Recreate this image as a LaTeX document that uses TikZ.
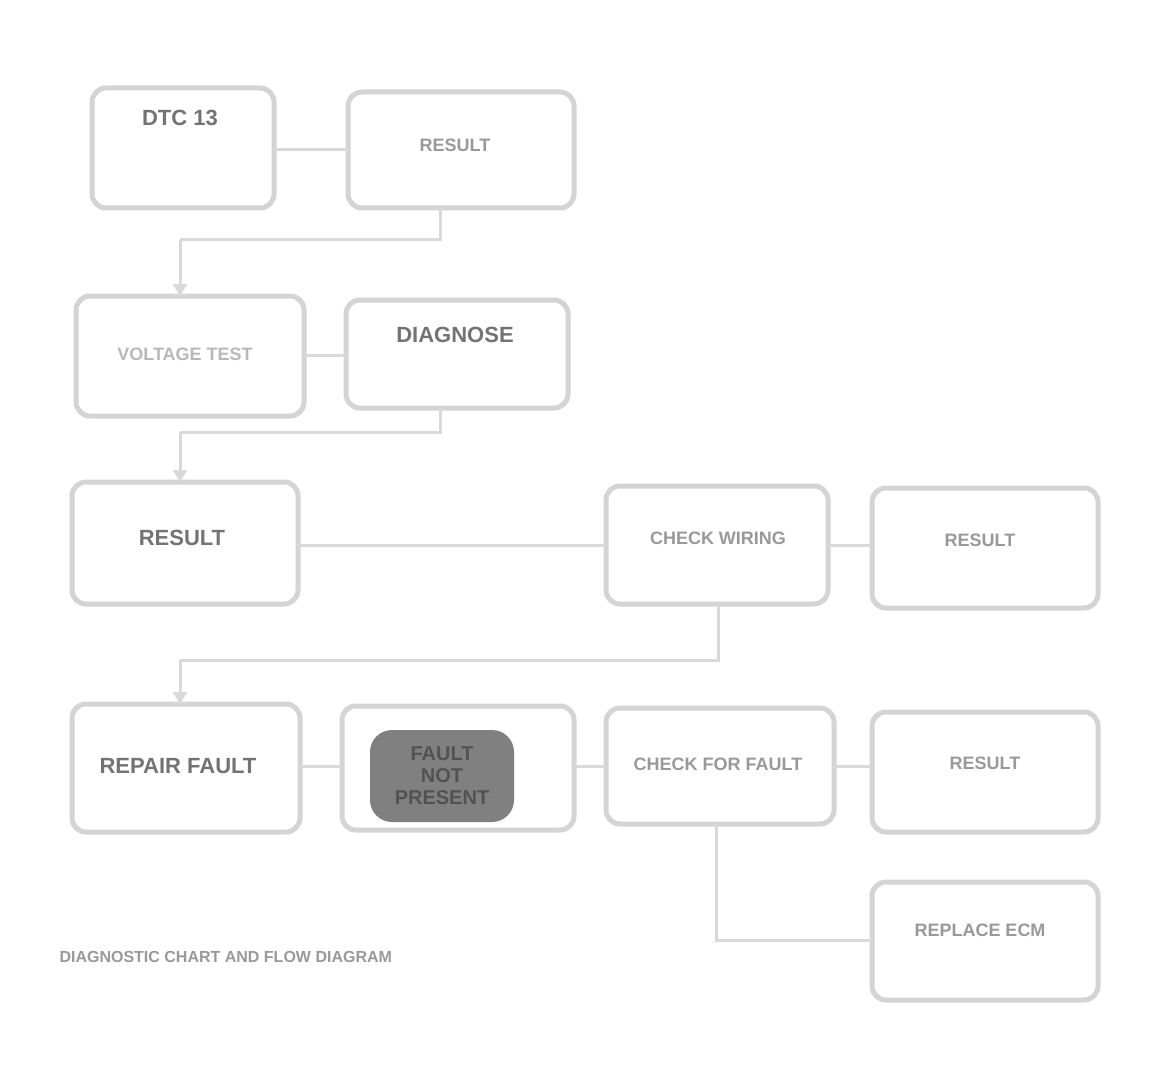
\documentclass[tikz,border=0pt]{standalone}
\usepackage{fontspec}
\setmainfont{Liberation Sans}
\usetikzlibrary{arrows.meta}
\begin{document}
\begin{tikzpicture}[x=1pt,y=-1pt,
  box/.style={draw=black!17,line width=5pt,rounded corners=14pt,fill=white},
  lbl/.style={text=black!40,font=\bfseries\fontsize{18}{20}\selectfont},
  lbldark/.style={text=black!55,font=\bfseries\fontsize{22}{24}\selectfont},
  conn/.style={draw=black!15,line width=3pt},
  arr/.style={conn,-{Triangle[length=12pt,width=14pt]}}]
\useasboundingbox (0,0) rectangle (1157,1086);
\fill[white] (0,0) rectangle (1157,1086);
% row 1
\draw[box] (92,88) rectangle (274,208);
\draw[box] (348,92) rectangle (574,208);
\node[lbldark] (ta) at (180,118) {DTC 13};
\node[lbl] (tb) at (455,145) {RESULT};
% row 2
\draw[box] (76,296) rectangle (304,416);
\draw[box] (346,300) rectangle (568,408);
\node[lbl,text=black!28] (tc) at (185,354) {VOLTAGE TEST};
\node[lbldark] (td) at (455,335) {DIAGNOSE};
% row 3
\draw[box] (72,482) rectangle (298,604);
\draw[box] (606,486) rectangle (828,604);
\draw[box] (872,488) rectangle (1098,608);
\node[lbldark] (te) at (182,538) {RESULT};
\node[lbl] (tf) at (718,538) {CHECK WIRING};
\node[lbl] (tg) at (980,540) {RESULT};
% row 4
\draw[box] (72,704) rectangle (300,832);
\draw[box] (342,706) rectangle (574,830);
\draw[box] (606,708) rectangle (834,824);
\draw[box] (872,712) rectangle (1098,832);
\draw[box] (872,882) rectangle (1098,1000);
\node[lbldark] (th) at (178,766) {REPAIR FAULT};
\fill[black!50,rounded corners=22pt] (370,730) rectangle (514,822);
\node[text=black!68,font=\bfseries\fontsize{20}{22}\selectfont,align=center] (ti) at (442,776) {FAULT\\NOT\\PRESENT};
\node[lbl] (tj) at (718,764) {CHECK FOR FAULT};
\node[lbl] (tk) at (985,763) {RESULT};
\node[lbl] (tl) at (980,930) {REPLACE ECM};
% footer
\node[lbl,text=black!40,font=\bfseries\fontsize{16}{18}\selectfont,anchor=west] (foot) at (56,957) {DIAGNOSTIC CHART AND FLOW DIAGRAM};
% connectors
\coordinate (ab1) at (274,150); \coordinate (ab2) at (348,150);
\draw[conn] (ab1) -- (ab2);
\coordinate (r1a) at (440,208); \coordinate (r1b) at (440,240);
\coordinate (r1c) at (180,240); \coordinate (r1d) at (180,296);
\draw[conn] (r1a) -- (r1b) -- (r1c);
\draw[arr] (r1c) -- (r1d);
\coordinate (cd1) at (304,355); \coordinate (cd2) at (346,355);
\draw[conn] (cd1) -- (cd2);
\coordinate (r2a) at (440,408); \coordinate (r2b) at (440,432);
\coordinate (r2c) at (180,432); \coordinate (r2d) at (180,482);
\draw[conn] (r2a) -- (r2b) -- (r2c);
\draw[arr] (r2c) -- (r2d);
\coordinate (ef1) at (298,545); \coordinate (ef2) at (606,545);
\draw[conn] (ef1) -- (ef2);
\coordinate (fg1) at (828,545); \coordinate (fg2) at (872,545);
\draw[conn] (fg1) -- (fg2);
\coordinate (r3a) at (718,604); \coordinate (r3b) at (718,660);
\coordinate (r3c) at (180,660); \coordinate (r3d) at (180,704);
\draw[conn] (r3a) -- (r3b) -- (r3c);
\draw[arr] (r3c) -- (r3d);
\coordinate (hi1) at (300,766); \coordinate (hi2) at (342,766);
\draw[conn] (hi1) -- (hi2);
\coordinate (ij1) at (574,766); \coordinate (ij2) at (606,766);
\draw[conn] (ij1) -- (ij2);
\coordinate (jk1) at (834,766); \coordinate (jk2) at (872,766);
\draw[conn] (jk1) -- (jk2);
\coordinate (jl1) at (716,824); \coordinate (jl2) at (716,940);
\coordinate (jl3) at (872,940);
\draw[conn] (jl1) -- (jl2) -- (jl3);
\end{tikzpicture}
\end{document}
